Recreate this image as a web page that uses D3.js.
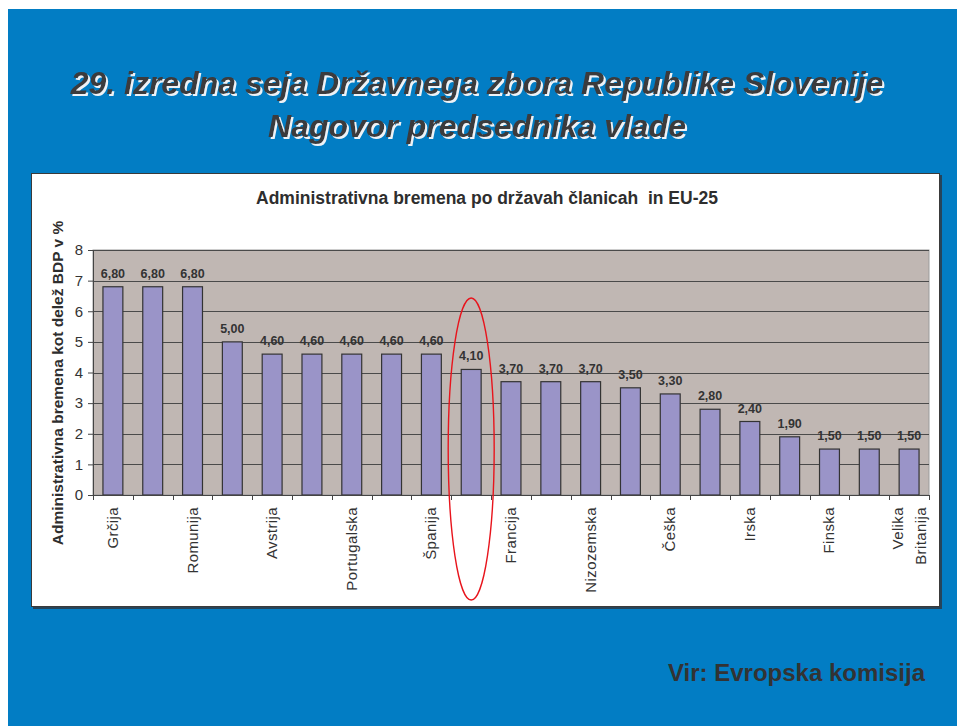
<!DOCTYPE html>
<html>
<head>
<meta charset="utf-8">
<script src="https://cdn.jsdelivr.net/npm/d3@7"></script>
<style>
  html, body { margin: 0; padding: 0; background: #ffffff; }
  svg { display: block; font-family: "Liberation Sans", Arial, sans-serif; }
</style>
</head>
<body>
<svg id="chart" width="957" height="726"></svg>
<script>
// Category labels (empty strings are categories whose label Excel skipped)
const categories = [
  "Grčija", "", "Romunija", "", "Avstrija", "", "Portugalska", "", "Španija", "",
  "Francija", "", "Nizozemska", "", "Češka", "", "Irska", "", "Finska", "",
  "Velika Britanija"
];
// Administrative burden as share of GDP (%)
const values = [
  6.80, 6.80, 6.80, 5.00, 4.60, 4.60, 4.60, 4.60, 4.60, 4.10,
  3.70, 3.70, 3.70, 3.50, 3.30, 2.80, 2.40, 1.90, 1.50, 1.50, 1.50
];
const yTicks = [0, 1, 2, 3, 4, 5, 6, 7, 8];
const titleLines = [
  "29. izredna seja Državnega zbora Republike Slovenije",
  "Nagovor predsednika vlade"
];
const chartTitle = "Administrativna bremena po državah članicah  in EU-25";
const yAxisTitle = "Administrativna bremena kot delež BDP v %";
const sourceText = "Vir: Evropska komisija";
const highlightIndex = 9;

const svg = d3.select("#chart");

// white drop shadow for the slide title
const defs = svg.append("defs");
defs.append("filter").attr("id", "titleShadow")
  .attr("x", "-5%").attr("y", "-20%").attr("width", "110%").attr("height", "150%")
  .append("feDropShadow")
  .attr("dx", 2).attr("dy", 2).attr("stdDeviation", 0.3)
  .attr("flood-color", "#eef2f6").attr("flood-opacity", 1);

// slide background
svg.append("rect").attr("x", 8).attr("y", 9).attr("width", 949).attr("height", 717)
  .attr("fill", "#027dc4");

// slide title
titleLines.forEach((t, i) => {
  svg.append("text").attr("x", 477).attr("y", [94, 137][i]).attr("text-anchor", "middle")
    .attr("font-size", 32).attr("font-weight", "bold").attr("font-style", "italic")
    .attr("fill", "#3b3b3d").attr("filter", "url(#titleShadow)").text(t);
});

// chart panel
svg.append("rect").attr("x", 33).attr("y", 175).attr("width", 909).attr("height", 434)
  .attr("fill", "#26445a");
svg.append("rect").attr("x", 31.5).attr("y", 173.5).attr("width", 908).attr("height", 433)
  .attr("fill", "#ffffff").attr("stroke", "#3a3a3a").attr("stroke-width", 1);

const plot = { left: 93, right: 929, top: 250, bottom: 495 };

const x = d3.scaleBand()
  .domain(d3.range(categories.length))
  .range([plot.left, plot.right])
  .paddingInner(0.5).paddingOuter(0.25);

const y = d3.scaleLinear().domain([0, 8]).range([plot.bottom, plot.top]);

// plot background
svg.append("rect")
  .attr("x", plot.left).attr("y", plot.top)
  .attr("width", plot.right - plot.left).attr("height", plot.bottom - plot.top)
  .attr("fill", "#c0b7b3").attr("stroke", "#9a9a9a").attr("stroke-width", 1);

// horizontal gridlines
svg.append("g").selectAll("line").data(yTicks.filter(d => d > 0)).join("line")
  .attr("x1", plot.left).attr("x2", plot.right)
  .attr("y1", d => Math.round(y(d)) + 0.5).attr("y2", d => Math.round(y(d)) + 0.5)
  .attr("stroke", "#4a4a4a").attr("stroke-width", 1);

// bars
svg.append("g").selectAll("rect").data(values).join("rect")
  .attr("x", (d, i) => x(i))
  .attr("y", d => y(d))
  .attr("width", x.bandwidth())
  .attr("height", d => y(0) - y(d))
  .attr("fill", "#9a94c8").attr("stroke", "#333333").attr("stroke-width", 1.2);

// value labels
svg.append("g").selectAll("text").data(values).join("text")
  .attr("x", (d, i) => x(i) + x.bandwidth() / 2)
  .attr("y", d => y(d) - 9)
  .attr("text-anchor", "middle")
  .attr("font-size", 12.5).attr("font-weight", "bold").attr("fill", "#333333")
  .text(d => d3.format(".2f")(d).replace(".", ","));

// y axis
const yAxis = d3.axisLeft(y).tickValues(yTicks).tickSize(5).tickPadding(5);
const gy = svg.append("g").attr("transform", `translate(${plot.left},0)`).call(yAxis);
gy.select(".domain").attr("stroke", "#444444");
gy.selectAll(".tick line").attr("stroke", "#444444");
gy.selectAll(".tick text").attr("font-size", 15).attr("fill", "#333333")
  .attr("font-family", "Liberation Sans, Arial, sans-serif");

// x axis: ticks at category boundaries
const boundaries = d3.range(categories.length + 1).map(i => plot.left + i * (plot.right - plot.left) / categories.length);
svg.append("line").attr("x1", plot.left).attr("x2", plot.right)
  .attr("y1", plot.bottom + 0.5).attr("y2", plot.bottom + 0.5).attr("stroke", "#444444");
svg.append("g").selectAll("line").data(boundaries).join("line")
  .attr("x1", d => Math.round(d) + 0.5).attr("x2", d => Math.round(d) + 0.5)
  .attr("y1", plot.bottom).attr("y2", plot.bottom + 5)
  .attr("stroke", "#444444");

// category labels, rotated
const xl = svg.append("g");
categories.forEach((c, i) => {
  if (!c) return;
  const cx = x(i) + x.bandwidth() / 2;
  const lines = c.split(" ");
  lines.forEach((w, j) => {
    const off = (j - (lines.length - 1) / 2) * 23;
    xl.append("text")
      .attr("transform", `translate(${cx + off + 5},${plot.bottom + 12}) rotate(-90)`)
      .attr("text-anchor", "end")
      .attr("font-size", 15).attr("letter-spacing", 0.4).attr("fill", "#333333")
      .text(w);
  });
});

// chart title
svg.append("text").attr("x", 487).attr("y", 204).attr("text-anchor", "middle")
  .attr("font-size", 17.5).attr("font-weight", "bold").attr("fill", "#2e2e2e")
  .style("white-space", "pre")
  .text(chartTitle);

// y axis title
svg.append("text")
  .attr("transform", "translate(63,383) rotate(-90)")
  .attr("text-anchor", "middle")
  .attr("font-size", 15.5).attr("font-weight", "bold").attr("fill", "#2e2e2e")
  .text(yAxisTitle);

// highlight ellipse
svg.append("ellipse")
  .attr("cx", x(highlightIndex) + x.bandwidth() / 2).attr("cy", 449)
  .attr("rx", 23).attr("ry", 151)
  .attr("fill", "none").attr("stroke", "#e8141c").attr("stroke-width", 1.4);

// source note
svg.append("text").attr("x", 925).attr("y", 681).attr("text-anchor", "end")
  .attr("font-size", 24).attr("font-weight", "bold").attr("fill", "#333333")
  .text(sourceText);
</script>
</body>
</html>
